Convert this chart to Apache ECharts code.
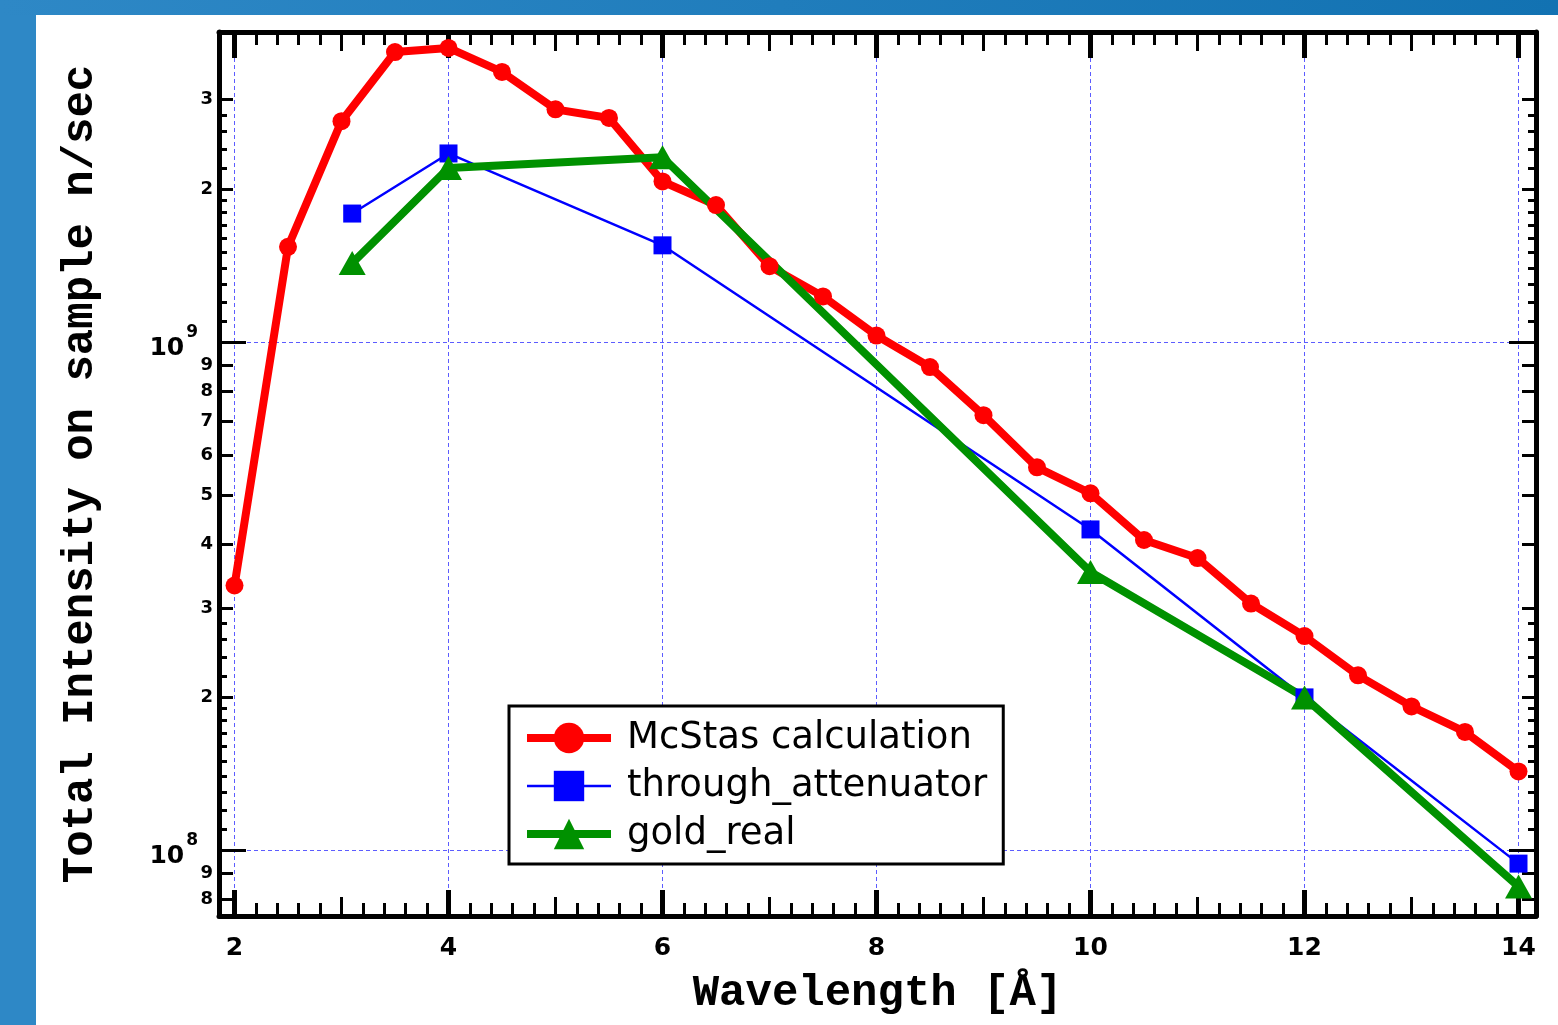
<!DOCTYPE html>
<html>
<head>
<meta charset="utf-8">
<title>Total Intensity on sample</title>
<script src="https://cdn.jsdelivr.net/npm/echarts@6/dist/echarts.min.js"></script>
<style>
  html, body { margin: 0; padding: 0; background: #fff; }
  #chart { width: 1558px; height: 1025px; }
</style>
</head>
<body>
<div id="chart"></div>
<script>
// data (n/sec)
const wavelengths = [2, 2.5, 3, 3.5, 4, 4.5, 5, 5.5, 6, 6.5, 7, 7.5, 8, 8.5, 9, 9.5, 10, 10.5, 11, 11.5, 12, 12.5, 13, 13.5, 14];
const mcstasValues = [3.32e8, 1.54e9, 2.72e9, 3.72e9, 3.79e9, 3.40e9, 2.87e9, 2.76e9, 2.07e9, 1.86e9, 1.41e9, 1.23e9, 1.03e9, 8.93e8, 7.18e8, 5.67e8, 5.04e8, 4.08e8, 3.76e8, 3.06e8, 2.64e8, 2.21e8, 1.92e8, 1.71e8, 1.43e8];
const measuredWavelengths = [3.1, 4, 6, 10, 12, 14];
const attenuatorValues = [1.79e9, 2.35e9, 1.55e9, 4.28e8, 2.00e8, 9.42e7];
const goldValues = [1.43e9, 2.20e9, 2.31e9, 3.53e8, 2.00e8, 8.49e7];
const seriesNames = ['McStas calculation', 'through_attenuator', 'gold_real'];

// x ticks
const xLabelTicks = [2, 4, 6, 8, 10, 12, 14];
const xMidTicks = [3, 5, 7, 9, 11, 13];
// y ticks (n/sec)
const yDecadeTicks = [1e8, 1e9];
const yDigitTicks = [8e7, 9e7, 2e8, 3e8, 4e8, 5e8, 6e8, 7e8, 8e8, 9e8, 2e9, 3e9];
const ySubTicks = [1.1e8, 1.2e8, 1.3e8, 1.4e8, 1.5e8, 1.6e8, 1.7e8, 1.8e8, 1.9e8, 2.2e8, 2.4e8, 2.6e8, 2.8e8,
                   1.1e9, 1.2e9, 1.3e9, 1.4e9, 1.5e9, 1.6e9, 1.7e9, 1.8e9, 1.9e9, 2.2e9, 2.4e9, 2.6e9, 2.8e9];

// axis ranges (x: 107 px per unit so the grid lines sit on pixel centres)
const XMIN = 1.85514, XMAX = 14.16355;
const YMIN = 7.871, YMAX = 9.610; // log10

// minor x ticks every 0.2
let xMinorTicks = [];
for (let i = 10; i <= 70; i++) {
  if (i % 5 !== 0) xMinorTicks.push(i / 5);
}

const lg = v => Math.log10(v);
const tickFont = 'DejaVu Sans';
const titleFont = 'Liberation Mono';
const gridColor = '#5c5cff';
const gridLineStyle = { color: gridColor, width: 1, type: [4, 3] };
const AXIS_Z = 2; // axes over the grid lines, under the data

// one x axis per tick length
function xAxisOf(position, ticks, len, width, extra) {
  return Object.assign({
    type: 'value', min: XMIN, max: XMAX, position: position, z: AXIS_Z,
    axisLine: { show: false, onZero: false },
    axisTick: { show: true, inside: true, length: len, customValues: ticks, lineStyle: { color: '#000', width: width } },
    axisLabel: { show: false },
    splitLine: { show: false }
  }, extra || {});
}
function yAxisOf(position, ticks, len, extra) {
  return Object.assign({
    type: 'value', min: YMIN, max: YMAX, position: position, z: AXIS_Z,
    axisLine: { show: false, onZero: false },
    axisTick: { show: true, inside: true, length: len, customValues: ticks.map(lg), lineStyle: { color: '#000', width: 3 } },
    axisLabel: { show: false },
    splitLine: { show: false }
  }, extra || {});
}

const axisLineStyle = { show: true, onZero: false, lineStyle: { color: '#000', width: 5 } };

let xAxes = [
  xAxisOf('bottom', xLabelTicks, 26, 5, {
    axisLine: axisLineStyle,
    axisLabel: {
      show: true, customValues: xLabelTicks, margin: 20,
      color: '#000', fontFamily: tickFont, fontWeight: 'bold', fontSize: 25
    },
    name: 'Wavelength [Å]', nameLocation: 'middle', nameGap: 56,
    nameTextStyle: { color: '#000', fontFamily: titleFont, fontWeight: 'bold', fontSize: 44 }
  }),
  xAxisOf('bottom', xMidTicks, 19, 3),
  xAxisOf('bottom', xMinorTicks, 13, 3),
  xAxisOf('top', xLabelTicks, 26, 5, { axisLine: axisLineStyle }),
  xAxisOf('top', xMidTicks, 19, 3),
  xAxisOf('top', xMinorTicks, 13, 3)
];

let yAxes = [
  yAxisOf('left', yDecadeTicks, 27, {
    axisLine: axisLineStyle,
    axisLabel: {
      show: true, customValues: yDecadeTicks.map(lg), margin: 21,
      formatter: v => '{b|10}{s|' + Math.round(v) + '}',
      rich: {
        b: { color: '#000', fontFamily: tickFont, fontWeight: 'bold', fontSize: 25, padding: [12, 0, 0, 0] },
        s: { color: '#000', fontFamily: tickFont, fontWeight: 'bold', fontSize: 17, verticalAlign: 'top', padding: [0, 0, 0, 2] }
      }
    },
    splitLine: { show: true, lineStyle: gridLineStyle },
    name: 'Total Intensity on sample n/sec', nameLocation: 'middle', nameGap: 116,
    nameTextStyle: { color: '#000', fontFamily: titleFont, fontWeight: 'bold', fontSize: 44 }
  }),
  yAxisOf('left', yDigitTicks, 14, {
    axisLabel: {
      show: true, customValues: yDigitTicks.map(lg), margin: 6,
      color: '#000', fontFamily: tickFont, fontWeight: 'bold', fontSize: 18,
      formatter: v => String(Math.round(Math.pow(10, v - Math.floor(v + 1e-9))))
    }
  }),
  yAxisOf('left', ySubTicks, 8),
  yAxisOf('right', yDecadeTicks, 27, { axisLine: axisLineStyle }),
  yAxisOf('right', yDigitTicks, 14),
  yAxisOf('right', ySubTicks, 8)
];

// points in log space
const toPoints = (xs, vs) => xs.map((x, i) => [x, lg(vs[i])]);

const colors = ['#ff0000', '#0000ff', '#009100'];
const lineWidths = [8, 2.5, 8];

let option = {
  backgroundColor: '#fff',
  animation: false,
  grid: { left: 219, right: 22, top: 32, bottom: 109, outerBoundsMode: 'none' },
  xAxis: xAxes,
  yAxis: yAxes,
  legend: {
    orient: 'vertical',
    left: 509, top: 706, z: 6,
    backgroundColor: '#fff',
    borderColor: '#000', borderWidth: 3, borderRadius: 0,
    padding: [12, 16, 10, 14],
    itemGap: 8, itemWidth: 84, itemHeight: 38,
    textStyle: { color: '#000', fontFamily: tickFont, fontSize: 37, lineHeight: 40, padding: [0, 0, 0, 11] },
    data: seriesNames.map((n, i) => ({
      name: n,
      lineStyle: { color: colors[i], width: lineWidths[i] }
    }))
  },
  series: [
    // vertical grid lines at the labelled wavelengths
    {
      name: 'grid', type: 'line', data: [], z: 1, silent: true,
      markLine: {
        silent: true, symbol: 'none', z: 1,
        label: { show: false },
        lineStyle: gridLineStyle,
        emphasis: { disabled: true },
        data: xLabelTicks.map(x => ({ xAxis: x }))
      }
    },
    {
      name: seriesNames[0], type: 'line', z: 3,
      data: toPoints(wavelengths, mcstasValues),
      symbol: 'circle', symbolSize: 18,
      lineStyle: { color: colors[0], width: lineWidths[0] },
      itemStyle: { color: colors[0] }
    },
    {
      name: seriesNames[1], type: 'line', z: 3,
      data: toPoints(measuredWavelengths, attenuatorValues),
      symbol: 'rect', symbolSize: 18,
      lineStyle: { color: colors[1], width: lineWidths[1] },
      itemStyle: { color: colors[1] }
    },
    {
      name: seriesNames[2], type: 'line', z: 3,
      data: toPoints(measuredWavelengths, goldValues),
      symbol: 'triangle', symbolSize: [27, 24],
      lineStyle: { color: colors[2], width: lineWidths[2] },
      itemStyle: { color: colors[2] }
    }
  ],
  // blue slide frame
  graphic: [
    { type: 'rect', shape: { x: 0, y: 0, width: 36, height: 1025 }, style: { fill: '#2e88c6' }, silent: true },
    {
      type: 'rect', shape: { x: 0, y: 0, width: 1558, height: 15 }, silent: true,
      style: { fill: new echarts.graphic.LinearGradient(0, 0, 1, 0, [
        { offset: 0, color: '#2e88c6' }, { offset: 1, color: '#1272b2' }
      ]) }
    }
  ]
};

let chart = echarts.init(document.getElementById('chart'));
chart.setOption(option);
</script>
</body>
</html>
